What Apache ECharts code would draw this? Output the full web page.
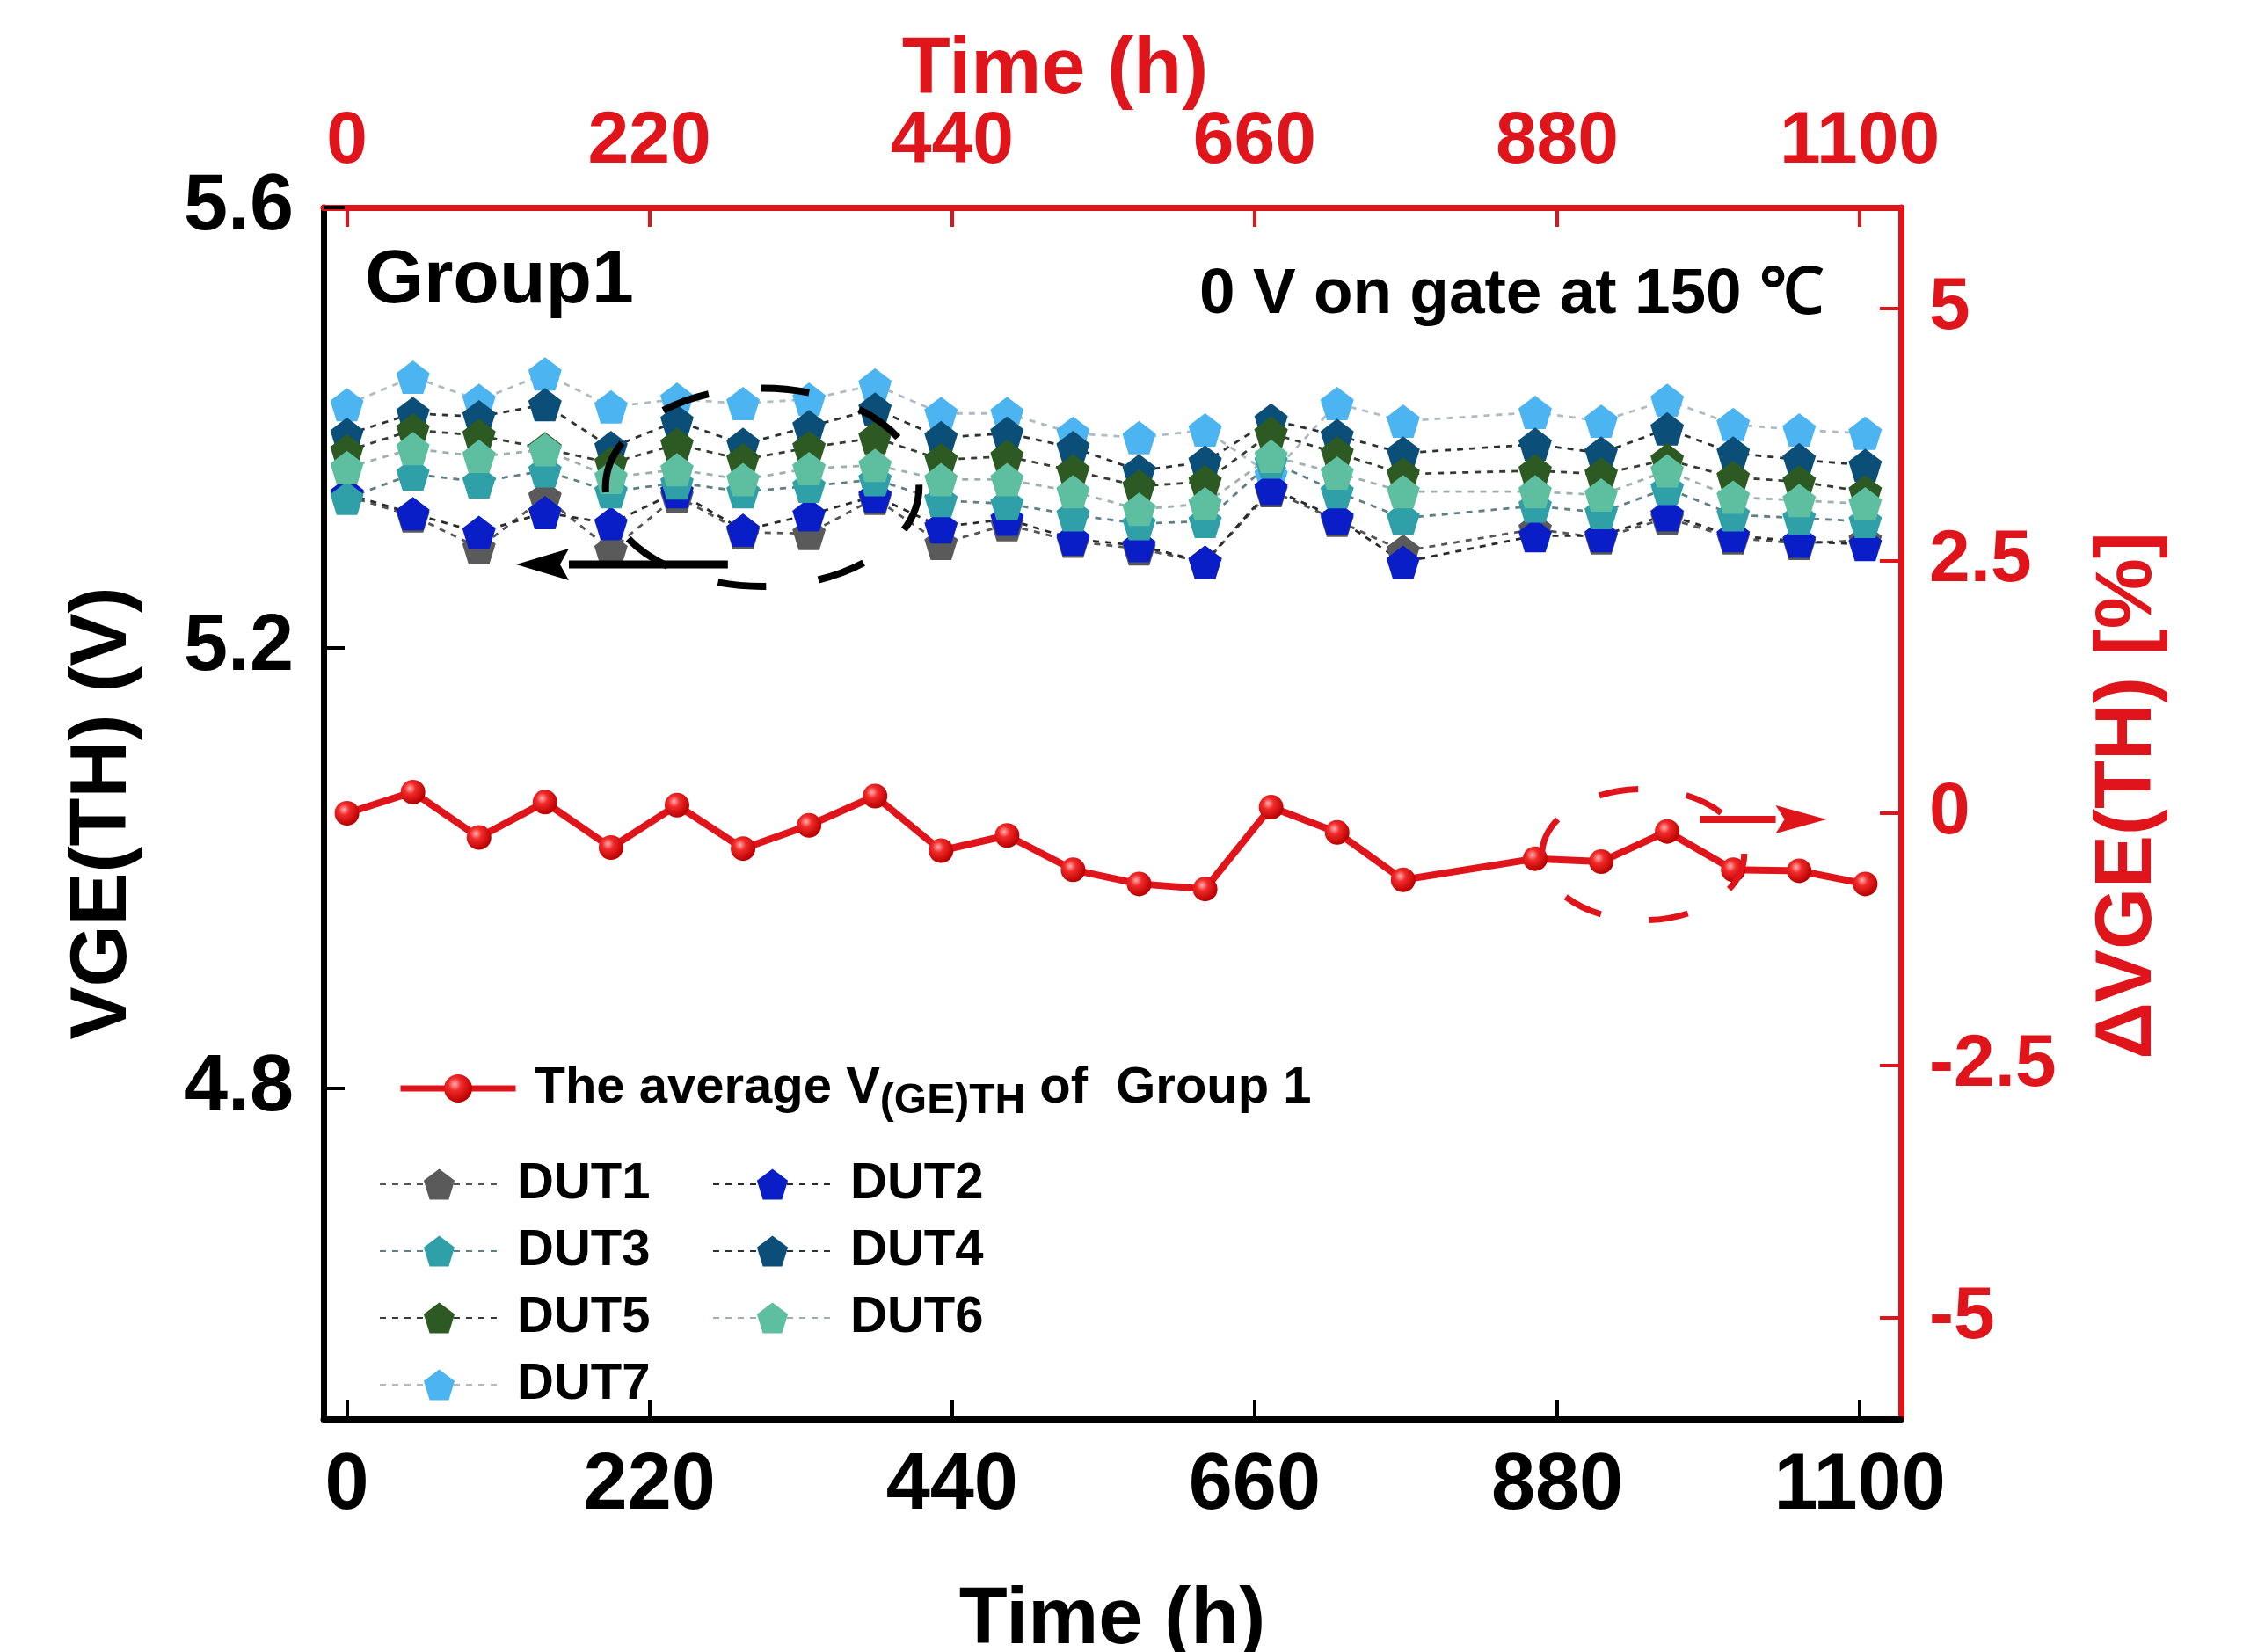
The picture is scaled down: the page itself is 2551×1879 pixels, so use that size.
<!DOCTYPE html>
<html><head><meta charset="utf-8">
<script src="https://cdn.jsdelivr.net/npm/echarts@6/dist/echarts.min.js"></script>
<style>html,body{margin:0;padding:0;background:#fff}#c{width:2551px;height:1879px}</style>
</head><body><div id="c"></div>
<script>
// ---------------- data ----------------
const times = [0,48,96,144,192,240,288,336,384,432,480,528,576,624,672,720,768,864,912,960,1008,1056,1104];
const dut1 = [5.338,5.320,5.291,5.337,5.289,5.338,5.305,5.304,5.336,5.295,5.312,5.297,5.290,5.278,5.343,5.316,5.288,5.308,5.300,5.318,5.300,5.295,5.298];
const dut2 = [5.340,5.322,5.305,5.323,5.313,5.342,5.307,5.321,5.338,5.310,5.317,5.299,5.293,5.278,5.345,5.318,5.278,5.302,5.302,5.321,5.302,5.297,5.294];
const dut3 = [5.336,5.358,5.351,5.361,5.342,5.350,5.342,5.347,5.353,5.334,5.331,5.321,5.313,5.315,5.369,5.342,5.318,5.329,5.323,5.345,5.321,5.318,5.315];
const dut4 = [5.394,5.413,5.410,5.421,5.382,5.406,5.385,5.401,5.417,5.391,5.395,5.382,5.361,5.369,5.407,5.393,5.377,5.385,5.377,5.399,5.377,5.371,5.366];
const dut5 = [5.379,5.398,5.393,5.381,5.368,5.385,5.371,5.382,5.391,5.371,5.374,5.361,5.347,5.351,5.395,5.377,5.358,5.361,5.358,5.371,5.355,5.351,5.342];
const dut6 = [5.364,5.381,5.374,5.380,5.355,5.362,5.353,5.363,5.366,5.353,5.353,5.342,5.326,5.331,5.374,5.359,5.342,5.342,5.339,5.361,5.337,5.334,5.331];
const dut7 = [5.421,5.446,5.425,5.449,5.419,5.426,5.422,5.426,5.439,5.413,5.413,5.395,5.391,5.398,5.357,5.422,5.406,5.414,5.406,5.425,5.403,5.398,5.395];
const avgDelta = [0,0.21,-0.24,0.11,-0.34,0.08,-0.35,-0.12,0.17,-0.37,-0.22,-0.56,-0.70,-0.75,0.06,-0.19,-0.66,-0.45,-0.48,-0.18,-0.56,-0.57,-0.70];
const dutNames = ['DUT1','DUT2','DUT3','DUT4','DUT5','DUT6','DUT7'];
const avgName = 'The average V(GE)TH of Group 1';
const xTicks = [0,220,440,660,880,1100];
const leftTicks = [4.8,5.2,5.6];
const rightTicks = [-5,-2.5,0,2.5,5];
const xRange = [-17,1130];
const leftRange = [4.5,5.6];
const rightRange = [-6,6];
// annotation anchors in data units
const blackEllipse = {x0:188, x1:416, y0:5.256, y1:5.436};
const blackArrow = {xFrom:277, xTo:123, y:5.276};
const redEllipse = {x0:869, x1:1016, y0:-1.06, y1:0.24};
const redArrow = {xFrom:984, xTo:1076, y:-0.06};

// ---------------- styles ----------------
const FONT = '"Liberation Sans", Arial, Helvetica, sans-serif';
const RED = '#e0151b';
const pent = 'path://M0,-10L9.511,-3.09L5.878,8.09L-5.878,8.09L-9.511,-3.09Z';
const dutColors = ['#5a5a5a','#0a1ec8','#2f9fa8','#0b4f78','#2c5a22','#5dbf9f','#4cb4f0'];
const dutLineColors = ['#555555','#2a2a2a','#5f7f85','#2a3238','#333d30','#9fb0ac','#aebbc4'];
const dutValues = [dut1,dut2,dut3,dut4,dut5,dut6,dut7];

const chart = echarts.init(document.getElementById('c'));

const ballGrad = new echarts.graphic.RadialGradient(0.38,0.35,0.65,[
  {offset:0,color:'#ffb0b0'},{offset:0.35,color:'#f22a2a'},{offset:1,color:'#b80000'}]);

const series = dutNames.map((n,i)=>({
  name:n, type:'line', xAxisIndex:0, yAxisIndex:0,
  data: times.map((t,j)=>[t, dutValues[i][j]]),
  symbol: pent, symbolSize: 38, showSymbol:true,
  itemStyle:{color: dutColors[i]},
  lineStyle:{color: dutLineColors[i], width:2.8, type:[7,7]},
  z: i===6 ? 2 : 3,
  animation:false
}));
series.push({
  name: avgName, type:'line', xAxisIndex:1, yAxisIndex:1,
  data: times.map((t,j)=>[t, avgDelta[j]]),
  symbol:'circle', symbolSize:28,
  itemStyle:{color: ballGrad},
  lineStyle:{color: RED, width:8},
  z:5, animation:false
});

const baseLegend = {
  orient:'vertical', itemGap:16, itemWidth:135, itemHeight:44, selectedMode:false,
  textStyle:{fontFamily:FONT, fontSize:58, fontWeight:'bold', color:'#000', lineHeight:60, padding:[0,0,0,16]}
};

const option = {
  animation:false,
  backgroundColor:'#fff',
  grid:{left:368, right:389, top:236, bottom:265, containLabel:false, outerBoundsMode:'none'},
  xAxis:[
    {type:'value', position:'bottom', min:xRange[0], max:xRange[1],
     axisLine:{show:true, onZero:false, lineStyle:{color:'#000', width:7}},
     axisTick:{show:true, inside:true, length:22, customValues:xTicks, lineStyle:{color:'#000', width:4}},
     axisLabel:{customValues:xTicks, margin:32, fontFamily:FONT, fontSize:90, fontWeight:'bold', color:'#000',
                formatter:v=>String(v)},
     splitLine:{show:false},
     name:'Time (h)', nameLocation:'middle', nameGap:185, nameMoveOverlap:false,
     nameTextStyle:{fontFamily:FONT, fontSize:90, fontWeight:'bold', color:'#000'}},
    {type:'value', position:'top', min:xRange[0], max:xRange[1],
     axisLine:{show:true, onZero:false, lineStyle:{color:RED, width:7}},
     axisTick:{show:true, inside:true, length:22, customValues:xTicks, lineStyle:{color:RED, width:4}},
     axisLabel:{customValues:xTicks, margin:32, fontFamily:FONT, fontSize:84, fontWeight:'bold', color:RED,
                formatter:v=>String(v)},
     splitLine:{show:false},
     name:'Time (h)', nameLocation:'middle', nameGap:110, nameMoveOverlap:false,
     nameTextStyle:{fontFamily:FONT, fontSize:90, fontWeight:'bold', color:RED, padding:[0,130,0,0]}}
  ],
  yAxis:[
    {type:'value', position:'left', min:leftRange[0], max:leftRange[1],
     axisLine:{show:true, onZero:false, lineStyle:{color:'#000', width:7}},
     axisTick:{show:true, inside:true, length:24, customValues:leftTicks, lineStyle:{color:'#000', width:4}},
     axisLabel:{customValues:leftTicks, margin:34, fontFamily:FONT, fontSize:90, fontWeight:'bold', color:'#000',
                formatter:v=>v.toFixed(1)},
     splitLine:{show:false},
     name:'VGE(TH) (V)', nameLocation:'middle', nameGap:205, nameRotate:90, nameMoveOverlap:false,
     nameTextStyle:{fontFamily:FONT, fontSize:90, fontWeight:'bold', color:'#000'}},
    {type:'value', position:'right', min:rightRange[0], max:rightRange[1],
     axisLine:{show:true, onZero:false, lineStyle:{color:RED, width:7}},
     axisTick:{show:true, inside:true, length:24, customValues:rightTicks, lineStyle:{color:RED, width:4}},
     axisLabel:{customValues:rightTicks, margin:32, fontFamily:FONT, fontSize:84, fontWeight:'bold', color:RED,
                formatter:v=>String(v)},
     splitLine:{show:false},
     name:'\u0394VGE(TH) [%]', nameLocation:'middle', nameGap:214, nameRotate:90, nameMoveOverlap:false,
     nameTextStyle:{fontFamily:FONT, fontSize:90, fontWeight:'bold', color:RED, padding:[0,0,0,40]}}
  ],
  legend:[
    Object.assign({}, baseLegend, {
      left:447, top:1194, itemWidth:131, itemHeight:40,
      data:[avgName],
      lineStyle:{width:7},
      formatter:()=>'{a|The average V}{b|(GE)TH}{a| of  Group 1}',
      textStyle:{fontFamily:FONT, fontSize:58, fontWeight:'bold', color:'#000', padding:[0,0,0,16],
        rich:{a:{fontFamily:FONT, fontSize:58, fontWeight:'bold', color:'#000', lineHeight:60},
              b:{fontFamily:FONT, fontSize:48, fontWeight:'bold', color:'#000', lineHeight:60, padding:[30,0,0,0]}}}
    }),
    Object.assign({}, baseLegend, {left:426, top:1312, data:['DUT1','DUT3','DUT5','DUT7']}),
    Object.assign({}, baseLegend, {left:805, top:1312, data:['DUT2','DUT4','DUT6']})
  ],
  series
};
chart.setOption(option);

// annotations positioned through the axes' scales
const px = (v)=>chart.convertToPixel({xAxisIndex:0}, v);
const pyL = (v)=>chart.convertToPixel({yAxisIndex:0}, v);
const pyR = (v)=>chart.convertToPixel({yAxisIndex:1}, v);
function ellipse(e, py, color, lw, dash){
  const x0=px(e.x0), x1=px(e.x1), y0=py(e.y0), y1=py(e.y1);
  return {type:'ellipse', z:20, silent:true,
    shape:{cx:(x0+x1)/2, cy:(y0+y1)/2, rx:Math.abs(x1-x0)/2, ry:Math.abs(y1-y0)/2},
    style:{fill:'none', stroke:color, lineWidth:lw, lineDash:dash}};
}
function arrow(a, py, color, lw, headLen, headHalf){
  const xf=px(a.xFrom), xt=px(a.xTo), y=py(a.y);
  const dir = Math.sign(xt-xf);
  const base = xt - dir*headLen;
  return [
    {type:'line', z:20, silent:true, shape:{x1:xf, y1:y, x2:base, y2:y}, style:{stroke:color, lineWidth:lw}},
    {type:'polygon', z:20, silent:true, shape:{points:[[xt,y],[base,y-headHalf],[base+dir*10,y],[base,y+headHalf]]}, style:{fill:color}}
  ];
}
const graphics = [
  {type:'text', z:20, x:415, y:320, style:{text:'Group1', fill:'#000', font:'bold 86px '+FONT,
    textAlign:'left', textVerticalAlign:'middle', align:'left', verticalAlign:'middle'}},
  {type:'text', z:20, x:2074, y:336, style:{text:'0 V on gate at 150 \u2103', fill:'#000', font:'bold 73px '+FONT,
    textAlign:'right', textVerticalAlign:'middle', align:'right', verticalAlign:'middle'}},
  ellipse(blackEllipse, pyL, '#000', 8, [55,60]),
  ...arrow(blackArrow, pyL, '#000', 9, 60, 18),
  ellipse(redEllipse, pyR, RED, 7, [45,55]),
  ...arrow(redArrow, pyR, RED, 8, 58, 16)
];
chart.setOption({graphic: graphics});
</script>
</body></html>
